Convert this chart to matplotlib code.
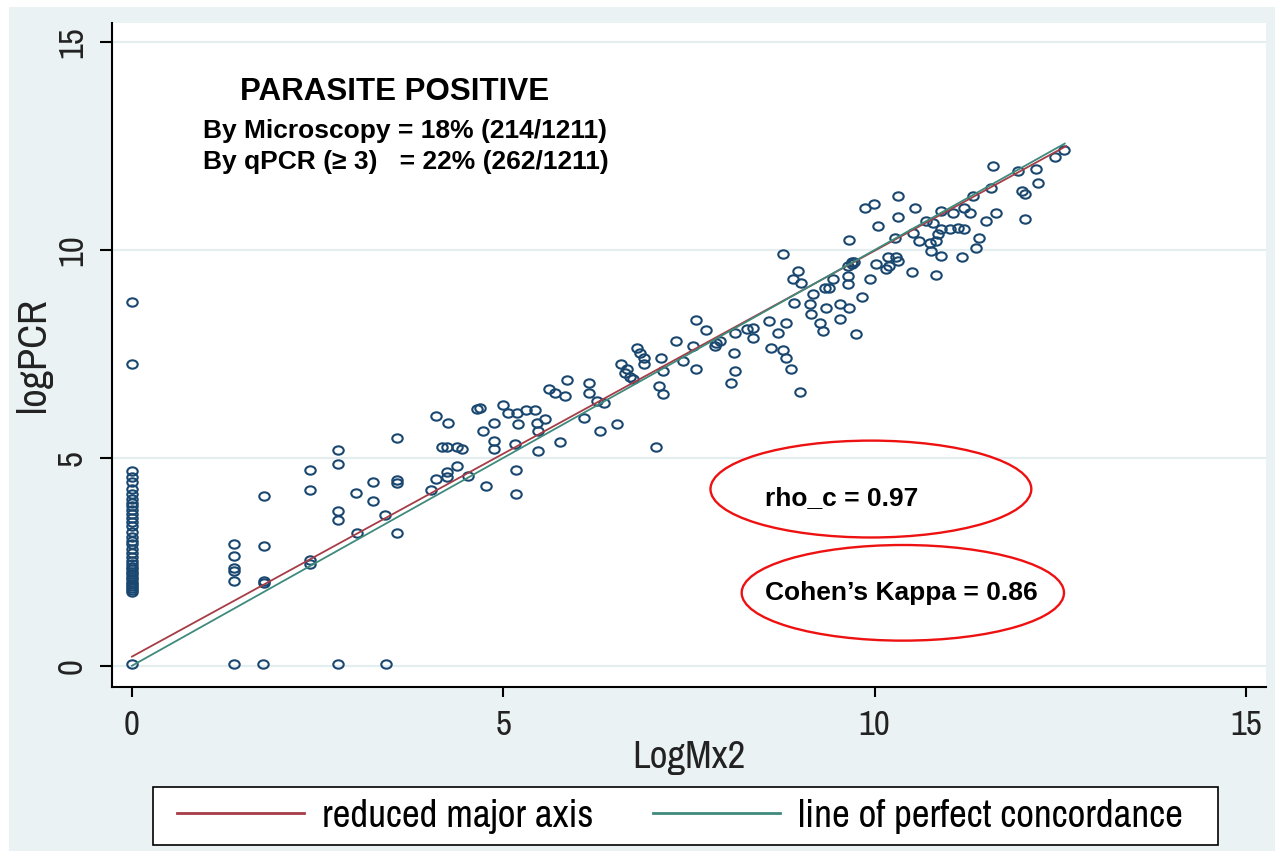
import numpy as np
import matplotlib
matplotlib.use('Agg')
import matplotlib.pyplot as plt
from matplotlib.path import Path
from matplotlib.patches import Ellipse, Rectangle
from matplotlib.transforms import Affine2D

# --- data ---
zero_col_y = [8.75, 7.26, 4.68, 4.55, 4.42, 4.25, 4.12, 4.0, 3.92, 3.85, 3.75, 3.65,
              3.55, 3.45, 3.35, 3.22, 3.1, 3.0, 2.92, 2.82, 2.72, 2.62, 2.52, 2.45,
              2.38, 2.32, 2.26, 2.2, 2.14, 2.08, 2.02, 1.97, 1.92, 1.87, 1.82, 1.78, 0.05]

log_mx2 = [1.38, 1.77, 2.77, 3.42,
           1.38, 1.38, 1.38, 1.38, 1.38,
           1.78, 1.78, 1.78, 1.78,
           2.40, 2.40, 2.40, 2.40,
           2.77, 2.77, 2.77, 2.77,
           3.02, 3.03, 3.24, 3.24, 3.41, 3.57, 3.57, 3.57, 3.57,
           4.10, 4.26, 4.17, 4.24, 4.38, 4.44, 4.38, 4.24, 4.24, 4.09, 4.02, 4.53,
           4.64, 4.68, 4.73, 4.87, 4.87, 4.87, 5.00, 5.07, 5.18, 5.30, 5.43, 5.20,
           5.16, 5.45, 5.56, 5.47, 5.47, 5.17, 5.17, 4.77, 5.76, 5.61, 5.70, 5.83,
           5.86, 6.15, 6.15, 6.26, 6.35, 6.09, 6.30, 6.53, 6.59, 6.64,
           8.77, 8.97, 8.90, 9.01, 9.17, 9.13, 9.15, 9.26, 9.30, 9.35, 9.33, 8.92,
           8.58, 8.81, 8.70, 8.61, 8.77, 8.81, 8.87, 8.99, 8.28, 8.36, 8.36, 8.12,
           7.87, 7.85, 7.92, 8.10, 8.12, 8.07, 7.59, 7.73, 7.33, 7.56, 7.42, 7.60,
           7.12, 7.15, 7.09, 7.15, 6.80, 6.84, 6.90, 6.90, 6.66, 6.71, 6.75, 7.06,
           11.60, 11.93, 12.17, 11.99, 12.02, 12.02, 12.20, 11.57, 11.32, 11.63,
           11.50, 11.41, 11.37, 11.17, 10.90, 11.05, 11.28, 11.21, 10.69, 10.78,
           10.90, 11.01, 11.12, 11.21, 10.85, 10.83, 10.74, 10.60, 10.76, 10.90,
           10.83, 10.52, 10.31, 10.31, 10.55, 9.87, 9.99, 10.05, 10.28, 9.65,
           10.02, 10.18, 10.29, 10.31, 10.16, 10.20, 10.50, 9.94, 9.83, 9.64,
           9.64, 9.64, 9.69, 9.53, 9.66, 9.53, 9.75, 9.44, 9.39, 9.72, 9.70,
           12.55, 12.43]

log_pcr = [0.05, 0.05, 0.05, 0.05,
           2.93, 2.64, 2.35, 2.27, 2.05,
           4.08, 2.88, 2.05, 1.98,
           4.72, 4.22, 2.55, 2.45,
           5.20, 4.85, 3.73, 3.50,
           4.16, 3.20, 4.42, 3.97, 3.62, 5.48, 4.47, 4.40, 3.20,
           6.01, 5.85, 5.25, 5.25, 5.25, 5.21, 4.81, 4.65, 4.53, 4.50, 4.23, 4.57,
           6.17, 6.21, 5.65, 5.85, 5.41, 5.21, 6.27, 6.09, 6.09, 6.15, 6.15, 5.81,
           5.33, 5.85, 5.93, 5.65, 5.17, 4.70, 4.14, 4.33, 5.37, 6.65, 6.57, 6.49,
           6.87, 6.81, 6.57, 6.37, 6.33, 5.95, 5.65, 5.81, 7.25, 7.05,
           9.90, 9.50, 9.30, 9.21, 8.93, 8.69, 8.45, 8.25, 8.05, 8.61, 9.09, 8.73,
           8.29, 8.25, 8.01, 7.64, 7.59, 7.41, 7.13, 6.59, 8.09, 8.13, 7.89, 8.01,
           7.77, 7.69, 7.81, 7.53, 7.09, 6.81, 8.31, 8.08, 7.81, 7.69, 7.33, 7.13,
           7.41, 7.09, 6.73, 6.53, 7.65, 7.53, 7.41, 7.25, 7.13, 6.95, 6.89, 5.26,
           12.02, 11.90, 11.94, 11.42, 11.34, 10.74, 11.62, 11.50, 11.30, 10.90,
           10.70, 10.30, 10.06, 9.83, 10.94, 10.90, 10.90, 11.02, 10.70, 10.66,
           10.50, 10.50, 10.54, 10.50, 10.38, 10.22, 10.18, 10.22, 9.98, 9.86,
           9.40, 10.42, 11.30, 10.79, 11.02, 11.02, 11.11, 10.58, 10.30, 10.24,
           9.66, 9.83, 9.83, 9.74, 9.54, 9.62, 9.46, 9.30, 8.88, 9.62,
           9.38, 9.18, 9.70, 8.69, 8.61, 8.33, 7.97, 9.30, 9.09, 9.72, 9.66,
           12.40, 12.24]

rma_x = [0.0, 12.58]
rma_y = [0.22, 12.50]
conc_x = [0.0, 12.56]
conc_y = [0.0, 12.56]

x_ticks = [0, 5, 10, 15]
y_ticks = [0, 5, 10, 15]

navy = '#1a476f'
maroon = '#a63c46'
teal = '#3e8a7c'
narrow = ['Liberation Sans Narrow', 'Archivo Narrow', 'DejaVu Sans']
bold = ['Liberation Sans', 'DejaVu Sans']

W, H = 1278, 855
fig = plt.figure(figsize=(12.78, 8.55), dpi=100)
fig.patch.set_facecolor('white')
fig.add_artist(Rectangle((0.007, 0.005), 0.991, 0.987, transform=fig.transFigure,
                         facecolor='#eaf2f3', edgecolor='none', zorder=-10))

ax = fig.add_axes([0.0874, 0.1968, 0.9032, 0.7763])
ax.set_facecolor('white')
ax.set_xlim(-0.273, 15.27)
ax.set_ylim(-0.505, 15.46)

for s in ['top', 'right']:
    ax.spines[s].set_visible(False)
for s in ['left', 'bottom']:
    ax.spines[s].set_linewidth(1.5)

for yv in y_ticks:
    ax.axhline(yv, color='#e4eef0', lw=1.6, zorder=0)

ax.set_xticks(x_ticks)
ax.set_yticks(y_ticks)
ax.tick_params(axis='both', direction='out', width=1.5, labelsize=25)
ax.tick_params(axis='y', length=9, pad=8)
ax.tick_params(axis='x', length=7, pad=9)
for lab in ax.get_xticklabels() + ax.get_yticklabels():
    lab.set_family(narrow)
    lab.set_color('#222222')
for lab in ax.get_yticklabels():
    lab.set_rotation(90)
    lab.set_va('center')

ax.set_xlabel('LogMx2', family=narrow, fontsize=28, color='#222222', labelpad=-1)
ax.set_ylabel('logPCR', family=narrow, fontsize=29, color='#222222', labelpad=3)

# hollow, slightly flattened circles like the Stata markers
oval = Path.unit_circle().transformed(Affine2D().scale(1.0, 0.8))
ax.plot([0] * len(zero_col_y), zero_col_y, ls='none', marker=oval, ms=7.5,
        mfc='none', mec=navy, mew=1.5, zorder=3)
ax.plot(log_mx2, log_pcr, ls='none', marker=oval, ms=7.5,
        mfc='none', mec=navy, mew=1.5, zorder=3)

l1, = ax.plot(rma_x, rma_y, color=maroon, lw=1.3, zorder=4)
l2, = ax.plot(conc_x, conc_y, color=teal, lw=1.3, zorder=4)

ax.text(3.54, 13.8, 'PARASITE POSITIVE', family=bold, weight='bold', fontsize=22.5,
        ha='center', va='center')
ax.text(0.956, 12.87, 'By Microscopy = 18% (214/1211)', family=bold, weight='bold',
        fontsize=19, ha='left', va='center')
ax.text(0.956, 12.11, 'By qPCR (\u2265 3)   = 22% (262/1211)', family=bold, weight='bold',
        fontsize=19, ha='left', va='center')

ax.add_patch(Ellipse((9.95, 4.25), 4.32, 2.33, fill=False, edgecolor='#ee1111', lw=1.7, zorder=5))
ax.add_patch(Ellipse((10.38, 1.754), 4.34, 2.30, fill=False, edgecolor='#ee1111', lw=1.7, zorder=5))
ax.text(8.52, 4.03, 'rho_c = 0.97', family=bold, weight='bold', fontsize=19,
        ha='left', va='center')
ax.text(8.52, 1.74, 'Cohen\u2019s Kappa = 0.86', family=bold, weight='bold', fontsize=19,
        ha='left', va='center')

# legend box drawn separately so its padding can match the Stata one
fig.add_artist(Rectangle((153 / W, 1 - 845 / H), (1218 - 153) / W, 58 / H,
                         transform=fig.transFigure, facecolor='white',
                         edgecolor='black', lw=1.2, zorder=1))
leg = fig.legend([l1, l2], ['reduced major axis', 'line of perfect concordance'],
                 loc='center', bbox_to_anchor=(680 / W, 1 - 816 / H), ncol=2,
                 frameon=False, prop={'family': narrow, 'size': 28},
                 handlelength=3.26, handletextpad=0.46, columnspacing=1.54,
                 borderpad=0.2)
leg.set_zorder(2)
for line in leg.get_lines():
    line.set_linewidth(2)

fig.savefig('out.png', dpi=100)
